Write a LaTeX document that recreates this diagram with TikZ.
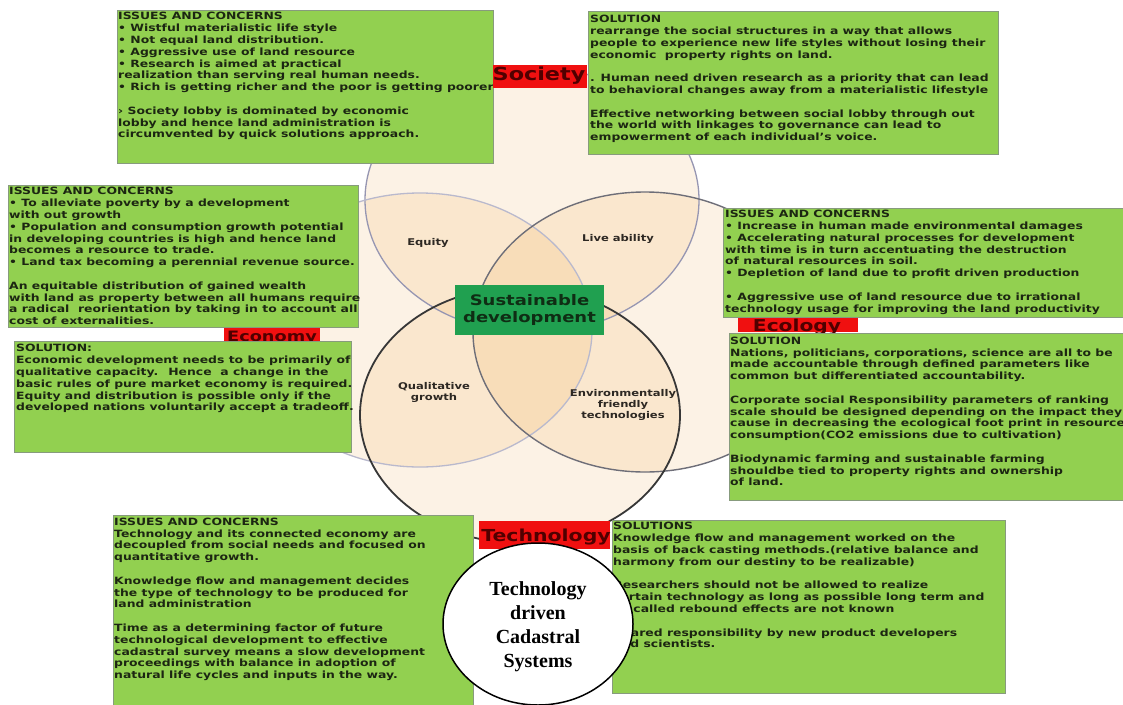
\documentclass[tikz,border=0pt]{standalone}
\usepackage{fontspec}
\usetikzlibrary{shapes.geometric}
\setmainfont{Liberation Serif}
\newfontfamily\bx{DejaVu Sans}[FakeStretch=1.24]
\definecolor{boxgreen}{RGB}{146,208,80}
\definecolor{boxedge}{RGB}{135,155,125}
\definecolor{txt}{RGB}{28,38,18}
\definecolor{lblred}{RGB}{240,16,16}
\definecolor{lbltxt}{RGB}{80,0,0}
\definecolor{sdgreen}{RGB}{32,160,80}
\definecolor{sdtxt}{RGB}{15,45,20}
\definecolor{venfill}{RGB}{235,135,5}
\definecolor{ringA}{RGB}{150,150,178}
\definecolor{ringB}{RGB}{185,185,205}
\definecolor{ringC}{RGB}{110,110,120}
\definecolor{ringD}{RGB}{55,55,55}
\definecolor{vtxt}{RGB}{45,40,35}
\begin{document}
\begin{tikzpicture}[x=1pt,y=-1pt,
  gbox/.style={draw=boxedge, line width=0.8pt, fill=boxgreen, inner sep=0pt, anchor=north west},
  btext/.style={anchor=north west, inner sep=0pt, align=left, text=txt, font=\bx\bfseries\fontsize{10}{11.8}\selectfont},
  redlbl/.style={fill=lblred, inner sep=0pt, anchor=north west},
  lbltext/.style={anchor=base, inner sep=0pt, text=lbltxt},
  vlabel/.style={align=center, text=vtxt, font=\bx\bfseries\fontsize{9.3}{11}\selectfont, inner sep=0pt},
  vfill/.style={fill=venfill, fill opacity=0.1},
]
\useasboundingbox (0,0) rectangle (1123,704);
\fill[white] (0,0) rectangle (1123,704);

% Venn fills
\path[vfill] (532,200) ellipse [x radius=167pt, y radius=133pt];
\path[vfill] (420,330) ellipse [x radius=172pt, y radius=137pt];
\path[vfill] (645,332) ellipse [x radius=172pt, y radius=140pt];
\path[vfill] (520,415) ellipse [x radius=160pt, y radius=128pt];
% Venn outlines
\draw[ringA, line width=1.3pt] (532,200) ellipse [x radius=167pt, y radius=133pt];
\draw[ringB, line width=1.3pt] (420,330) ellipse [x radius=172pt, y radius=137pt];
\draw[ringC, line width=1.4pt] (645,332) ellipse [x radius=172pt, y radius=140pt];
\draw[ringD, line width=1.8pt] (520,415) ellipse [x radius=160pt, y radius=128pt];

% Venn labels
\node[vlabel] (equity) at (428,243) {Equity};
\node[vlabel] (live) at (618,239) {Live ability};
\node[vlabel] (qual) at (434,392) {Qualitative\\growth};
\node[vlabel] (envt) at (623,405) {Environmentally\\friendly\\technologies};

% labels under boxes
\node[redlbl, minimum width=96pt, minimum height=15pt] (econlbl) at (224,327) {};
\node[lbltext, font=\bx\bfseries\fontsize{14.3}{16}\selectfont] (econtxt) at (272,341.5) {Economy};
\node[redlbl, minimum width=120pt, minimum height=14pt] (ecollbl) at (738,318) {};
\node[lbltext, font=\bx\bfseries\fontsize{16.3}{18}\selectfont] (ecoltxt) at (797,331.5) {Ecology};

% Society boxes
\node[gbox, minimum width=376pt, minimum height=153pt] (socI) at (117,10) {};
\node[btext] (socIt) at (118,12.3) {ISSUES AND CONCERNS\\
• Wistful materialistic life style\\
• Not equal land distribution.\\
• Aggressive use of land resource\\
• Research is aimed at practical\\
realization than serving real human needs.\\
• Rich is getting richer and the poor is getting poorer\\[11.8pt]
› Society lobby is dominated by economic\\
lobby and hence land administration is\\
circumvented by quick solutions approach.};
\node[gbox, minimum width=410pt, minimum height=143pt] (socS) at (588,11) {};
\node[btext] (socSt) at (590,15) {SOLUTION\\
rearrange the social structures in a way that allows\\
people to experience new life styles without losing their\\
economic~ property rights on land.\\[11.8pt]
. Human need driven research as a priority that can lead\\
to behavioral changes away from a materialistic lifestyle\\[11.8pt]
Effective networking between social lobby through out\\
the world with linkages to governance can lead to\\
empowerment of each individual’s voice.};

% Economy boxes
\node[gbox, minimum width=350pt, minimum height=142pt] (ecoI) at (8,185) {};
\node[btext] (ecoIt) at (9,187.3) {ISSUES AND CONCERNS\\
• To alleviate poverty by a development\\
with out growth\\
• Population and consumption growth potential\\
in developing countries is high and hence land\\
becomes a resource to trade.\\
• Land tax becoming a perennial revenue source.\\[11.8pt]
An equitable distribution of gained wealth\\
with land as property between all humans require\\
a radical~ reorientation by taking in to account all\\
cost of externalities.};
\node[gbox, minimum width=337pt, minimum height=111pt] (ecoS) at (14,341) {};
\node[btext] (ecoSt) at (16,344.3) {SOLUTION:\\
Economic development needs to be primarily of\\
qualitative capacity.~ Hence~ a change in the\\
basic rules of pure market economy is required.\\
Equity and distribution is possible only if the\\
developed nations voluntarily accept a tradeoff.};

% Ecology boxes
\node[gbox, minimum width=400pt, minimum height=109pt] (eclI) at (723,208) {};
\node[btext] (eclIt) at (725,210) {ISSUES AND CONCERNS\\
• Increase in human made environmental damages\\
• Accelerating natural processes for development\\
with time is in turn accentuating the destruction\\
of natural resources in soil.\\
• Depletion of land due to profit driven production\\[11.8pt]
• Aggressive use of land resource due to irrational\\
technology usage for improving the land productivity};
\node[gbox, minimum width=394pt, minimum height=167pt] (eclS) at (729,333) {};
\node[btext] (eclSt) at (730,336.7) {SOLUTION\\
Nations, politicians, corporations, science are all to be\\
made accountable through defined parameters like\\
common but differentiated accountability.\\[11.8pt]
Corporate social Responsibility parameters of ranking\\
scale should be designed depending on the impact they\\
cause in decreasing the ecological foot print in resource\\
consumption(CO2 emissions due to cultivation)\\[11.8pt]
Biodynamic farming and sustainable farming\\
shouldbe tied to property rights and ownership\\
of land.};

% Technology boxes
\node[gbox, minimum width=360pt, minimum height=190pt] (tecI) at (113,515) {};
\node[btext] (tecIt) at (114,517.7) {ISSUES AND CONCERNS\\
Technology and its connected economy are\\
decoupled from social needs and focused on\\
quantitative growth.\\[11.8pt]
Knowledge flow and management decides\\
the type of technology to be produced for\\
land administration\\[11.8pt]
Time as a determining factor of future\\
technological development to effective\\
cadastral survey means a slow development\\
proceedings with balance in adoption of\\
natural life cycles and inputs in the way.};
\node[gbox, minimum width=393pt, minimum height=173pt] (tecS) at (612,520) {};
\node[btext] (tecSt) at (613,522.3) {SOLUTIONS\\
Knowledge flow and management worked on the\\
basis of back casting methods.(relative balance and\\
harmony from our destiny to be realizable)\\[11.8pt]
Researchers should not be allowed to realize\\
certain technology as long as possible long term and\\
so called rebound effects are not known\\[11.8pt]
Shared responsibility by new product developers\\
and scientists.};

% Sustainable development
\node[fill=sdgreen, minimum width=149pt, minimum height=50pt, inner sep=0pt, align=center, text=sdtxt,
      font=\bx\bfseries\fontsize{14.5}{16.7}\selectfont] (sd) at (529.5,310) {Sustainable\\development};

% Society and Technology labels
\node[redlbl, minimum width=94pt, minimum height=23pt] (soclbl) at (493,65) {};
\node[lbltext, font=\bx\bfseries\fontsize{18}{20}\selectfont] (soctxt) at (539,80.5) {Society};
\node[redlbl, minimum width=131pt, minimum height=28pt] (teclbl) at (479,521) {};
\node[lbltext, font=\bx\bfseries\fontsize{16.5}{18}\selectfont] (tectxt) at (546,541.5) {Technology};

% central white circle
\node[draw=black, line width=1.5pt, fill=white, ellipse, minimum width=190pt, minimum height=162pt, inner sep=0pt] (cad) at (538,624) {};
\node[align=center, inner sep=0pt, font=\bfseries\fontsize{20}{24}\selectfont] (cadtxt) at (538,627) {Technology\\driven\\Cadastral\\Systems};
\end{tikzpicture}
\end{document}
